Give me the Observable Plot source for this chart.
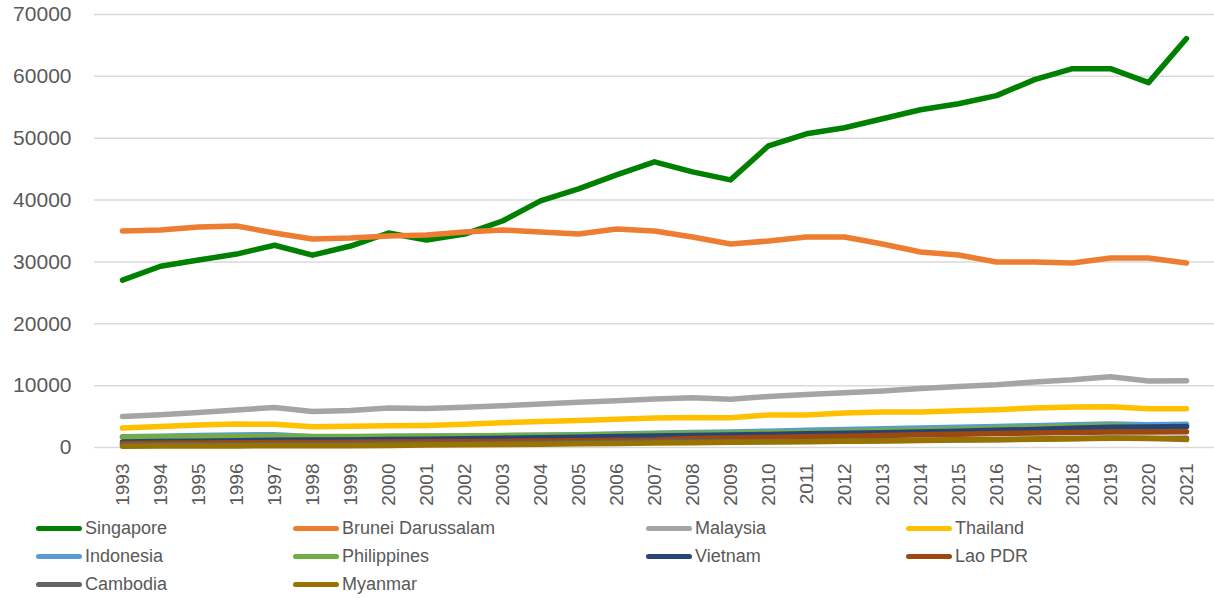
<!DOCTYPE html>
<html><head><meta charset="utf-8">
<script src="https://cdn.jsdelivr.net/npm/d3@7"></script>
<script src="https://cdn.jsdelivr.net/npm/@observablehq/plot@0.6"></script>
<style>
body{margin:0;background:#fff;font-family:"Liberation Sans",Arial,sans-serif;}
#chart{position:relative;width:1214px;height:598px;overflow:hidden;}
#chart svg{display:block;}
.item{position:absolute;display:flex;align-items:center;font-size:18px;color:#595959;height:28px;white-space:nowrap;}
.sw{width:46px;height:5px;border-radius:3px;margin-right:3px;}
</style></head><body><div id="chart"></div><script>
const years = ["1993","1994","1995","1996","1997","1998","1999","2000","2001","2002","2003","2004","2005","2006","2007","2008","2009","2010","2011","2012","2013","2014","2015","2016","2017","2018","2019","2020","2021"];
const yTicks = [0,10000,20000,30000,40000,50000,60000,70000];
const names = ["Singapore","Brunei Darussalam","Malaysia","Thailand","Indonesia","Philippines","Vietnam","Lao PDR","Cambodia","Myanmar"];
const colors = ["#008000","#ED7D31","#A5A5A5","#FFC000","#5B9BD5","#70AD47","#264478","#9E480E","#636363","#997300"];

const singapore = [27060,29300,30300,31270,32700,31100,32570,34680,33540,34500,36620,39860,41800,44070,46180,44560,43260,48770,50720,51690,53150,54600,55580,56880,59470,61250,61250,58980,66110];
const brunei = [35000,35160,35650,35810,34680,33700,33870,34190,34350,34840,35160,34840,34500,35320,35000,34030,32890,33380,34030,34030,32890,31600,31110,29980,29980,29820,30630,30630,29820];
const malaysia = [5020,5300,5650,6050,6480,5830,6000,6400,6320,6500,6750,7050,7300,7550,7850,8050,7800,8250,8550,8850,9150,9550,9850,10150,10600,10950,11450,10750,10800];
const thailand = [3140,3400,3650,3800,3750,3350,3450,3500,3560,3750,4000,4200,4350,4550,4760,4860,4810,5250,5250,5570,5730,5730,5950,6110,6380,6540,6590,6270,6270];
const indonesia = [1720,1820,1940,2040,2080,1720,1700,1760,1800,1850,1910,1980,2070,2170,2300,2430,2510,2640,2770,2900,3020,3140,3260,3390,3520,3660,3800,3660,3750];
const philippines = [1700,1720,1760,1810,1860,1760,1780,1820,1840,1870,1920,1990,2040,2110,2220,2310,2300,2440,2480,2600,2730,2840,2960,3130,3290,3440,3600,3290,3420];
const vietnam = [900,960,1030,1100,1160,1200,1230,1290,1350,1420,1500,1580,1670,1760,1860,1940,2010,2110,2210,2300,2400,2510,2640,2770,2920,3100,3280,3330,3400];
const lao = [650,690,720,760,800,820,850,880,910,950,990,1040,1090,1160,1220,1450,1520,1620,1720,1830,1940,2050,2150,2250,2350,2430,2520,2500,2540];
const cambodia = [420,430,450,460,470,480,520,550,580,610,650,700,770,840,910,950,930,970,1020,1070,1130,1180,1240,1300,1370,1450,1530,1460,1490];
const myanmar = [220,230,250,260,270,280,300,330,390,430,480,530,590,650,710,770,830,890,940,1000,1070,1140,1200,1260,1330,1410,1500,1480,1280];

const series = [singapore,brunei,malaysia,thailand,indonesia,philippines,vietnam,lao,cambodia,myanmar];
const data = [];
names.forEach((n,i)=>series[i].forEach((v,j)=>data.push({name:n,year:years[j],value:v})));

const chart = Plot.plot({
  width:1214, height:514,
  marginLeft:94, marginRight:0, marginTop:14, marginBottom:67,
  style:{fontFamily:'"Liberation Sans",Arial,sans-serif',background:"#fff"},
  x:{type:"point",domain:years,padding:0.5},
  y:{domain:[0,70000]},
  color:{domain:names,range:colors},
  marks:[
    Plot.gridY(yTicks,{stroke:"#D9D9D9",strokeOpacity:1,strokeWidth:1.5}),
    Plot.axisY(yTicks,{tickSize:0,tickPadding:23,fontSize:21,fill:"#595959",label:null,tickFormat:d=>String(d)}),
    Plot.axisX({tickRotate:-90,tickSize:0,tickPadding:16,fontSize:19,fill:"#595959",label:null}),
    Plot.line(data,{x:"year",y:"value",z:"name",stroke:"name",strokeWidth:5.5,strokeLinecap:"round",strokeLinejoin:"round"})
  ]
});
const root = document.getElementById("chart");
root.appendChild(chart);

const colX = [36,293,646,906];
const rowY = [514,542,570];
names.forEach((n,i)=>{
  const d = document.createElement("div");
  d.className="item";
  d.style.left = colX[i%4]+"px";
  d.style.top = rowY[Math.floor(i/4)]+"px";
  const sw = document.createElement("span");
  sw.className="sw"; sw.style.background=colors[i];
  const t = document.createElement("span");
  t.textContent = n;
  d.appendChild(sw); d.appendChild(t);
  root.appendChild(d);
});
</script></body></html>
